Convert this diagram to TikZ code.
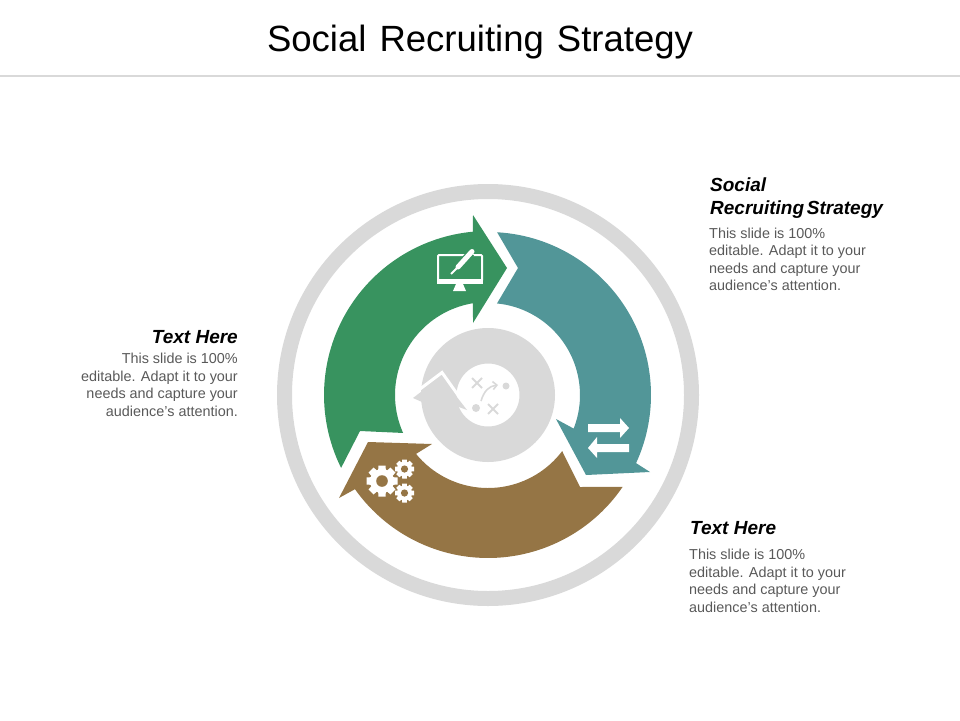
\documentclass[tikz,border=0pt]{standalone}
\usepackage{fontspec}
\setmainfont{Liberation Sans}
\usetikzlibrary{positioning,calc,arrows.meta}
\definecolor{ringgray}{HTML}{D9D9D9}
\definecolor{arrowgreen}{HTML}{38935F}
\definecolor{arrowteal}{HTML}{529698}
\definecolor{arrowbrown}{HTML}{957545}
\definecolor{bodygray}{HTML}{595959}
\tikzset{
  headtext/.style={font=\fontsize{19}{23}\selectfont\bfseries\itshape,inner sep=0pt,text=black},
  bodytext/.style={font=\fontsize{14.4}{17.5}\selectfont,inner sep=0pt,text=bodygray},
}
\newcommand{\gearicon}[6]{% x, y, outer, body, hole, colour behind
  \foreach \a in {0,45,...,315}
    \fill[white,shift={(#1,#2)},rotate=\a] (-#4*0.36,0) -- (-#4*0.3,#3) -- (#4*0.3,#3) -- (#4*0.36,0) -- cycle;
  \fill[white] (#1,#2) circle (#4);
  \fill[#6] (#1,#2) circle (#5);
}
\begin{document}
\begin{tikzpicture}[x=1pt,y=1pt]
\useasboundingbox (0,-720) rectangle (960,0);
\coordinate (c) at (488,-395);

% title
\node (title) at (480,-42) {\fontsize{36.5}{40}\selectfont Social\hspace{3pt} Recruiting\hspace{3pt} Strategy};
\draw[ringgray,line width=2.5pt] (0,-76) -- (960,-76);

% rings
\fill[ringgray,even odd rule] (c) circle (211) (c) circle (196);
\fill[ringgray,even odd rule] (c) circle (67) (c) circle (31.5);

% arrow in the middle
\draw[white,line width=3pt] (414,-393.5) -- (442,-372.5) -- (465,-405);
\fill[ringgray] (413,-398) -- (441,-376.5) -- (467,-410) -- (456,-406) -- (440,-400) -- (422,-402) -- cycle;

% three big arrows
\fill[arrowteal] ($(c)+(86.8:163)$) arc[start angle=86.8,end angle=-24.7,radius=163]
  -- (650,-472) -- (586,-475) -- (556,-419) -- ($(c)+(-21.4:92)$)
  arc[start angle=-21.4,end angle=84.4,radius=92] -- (518,-268) -- cycle;
\fill[arrowbrown] ($(c)+(-34.3:163)$) arc[start angle=-34.3,end angle=-144.7,radius=163]
  -- (339,-498) -- (368,-442) -- (432,-444) -- ($(c)+(-140.7:93)$)
  arc[start angle=-140.7,end angle=-37.1,radius=93] -- (580,-487) -- cycle;
\fill[arrowgreen] ($(c)+(206.4:164)$) arc[start angle=206.4,end angle=95.3,radius=164]
  -- (473,-215) -- (507,-268) -- (473,-323) -- ($(c)+(99.3:93)$)
  arc[start angle=99.3,end angle=204.1,radius=93] -- (360,-431) -- cycle;

% monitor icon
\draw[white,line width=2pt,rounded corners=1pt] (438,-255) rectangle (482,-281);
\fill[white] (437,-279) rectangle (483,-284);
\fill[white] (456,-284) -- (463,-284) -- (466,-291) -- (453,-291) -- cycle;
\draw[arrowgreen,line width=8pt] (456,-270) -- (471,-253);
\draw[white,line width=5pt,line cap=round] (458,-267) -- (472,-251.5);
\draw[white,line width=2pt] (451,-274) -- (457,-268);

% two arrows icon
\fill[white] (588,-424) -- (620,-424) -- (620,-418) -- (629,-428) -- (620,-438) -- (620,-432) -- (588,-432) -- cycle;
\fill[white] (629,-444) -- (597,-444) -- (597,-437) -- (588,-448) -- (597,-458) -- (597,-452) -- (629,-452) -- cycle;

% gears icon
\gearicon{382}{-481}{15.5}{12}{5.8}{arrowbrown}
\gearicon{404.5}{-469}{9.5}{7.5}{3.6}{arrowbrown}
\gearicon{404.5}{-493}{9.5}{7.5}{3.6}{arrowbrown}

% plan icon in the hole
\draw[ringgray,line width=2pt] (472,-378) -- (482,-388) (472,-388) -- (482,-378);
\draw[ringgray,line width=2pt] (488,-404) -- (498,-414) (488,-414) -- (498,-404);
\fill[ringgray] (506,-386) circle (3.5);
\fill[ringgray] (476,-408) circle (4);
\draw[ringgray,line width=1.6pt,-{Straight Barb[length=4pt,width=8pt]}] (481,-401) .. controls (484,-391) and (489,-386) .. (498,-385);

% texts
\node[headtext,anchor=north west,align=left] (headright) at (710,-178) {Social\\Recruiting\hspace{-2.5pt} Strategy};
\node[bodytext,align=left,below=8.5pt of headright.south west,anchor=north west,xshift=-1pt] (bodyright) {This slide is 100\%\\editable. Adapt it to your\\needs and capture your\\audience's attention.};
\node[headtext,anchor=north east,align=right] (headleft) at (238,-330.5) {Text Here};
\node[bodytext,align=right,below=9pt of headleft.south east,anchor=north east] (bodyleft) {This slide is 100\%\\editable. Adapt it to your\\needs and capture your\\audience's attention.};
\node[headtext,anchor=north west,align=left] (headbottom) at (690,-521.5) {Text Here};
\node[bodytext,align=left,below=14pt of headbottom.south west,anchor=north west,xshift=-1pt] (bodybottom) {This slide is 100\%\\editable. Adapt it to your\\needs and capture your\\audience's attention.};
\end{tikzpicture}
\end{document}
